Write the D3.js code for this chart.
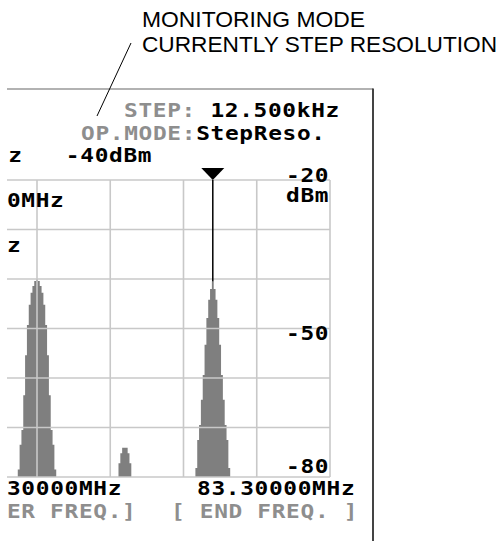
<!DOCTYPE html>
<html>
<head>
<meta charset="utf-8">
<script src="https://cdn.jsdelivr.net/npm/d3@7"></script>
<style>
  html, body { margin: 0; padding: 0; background: #fff; }
  svg { display: block; }
</style>
</head>
<body>
<div id="chart"></div>
<script>
// Span of the analyser screen (MHz) and level range (dBm)
const freqStart = 63.3;
const freqEnd = 83.3;
const divMHz = 2.5;
const levelTicks = [-20, -30, -40, -50, -60, -70, -80];
const levelLabels = [-20, -50, -80];

// Display bins (MHz per column) and the three peaks
const binStep = 0.0625;
const peakCenters = [73.3, 76.3, 79.3];
const peakA = [-78.5, -73.5, -70.5, -63.5, -55.4, -49.3, -45.2, -42.8, -41.4, -40.4, -40,
  -40.4, -41.4, -42.8, -45.2, -49.3, -55.4, -63.5, -70.5, -73.5, -78.5];
const peakB = [-77.2, -75.2, -74.1, -74.1, -74.1, -75.2, -77.2];
const peakC = [-78.2, -72.5, -69.5, -64.4, -59.4, -53.3, -47.9, -44.2, -42, -40.5,
  -42, -44.2, -47.9, -53.3, -59.4, -64.4, -69.5, -72.5, -78.2];
const peaks = [peakA, peakB, peakC];

// Marker
const markerFreq = 79.3;
const markerLevel = -40.5;

const width = 502;
const height = 541;

const svg = d3.select('#chart')
  .append('svg')
  .attr('width', width)
  .attr('height', height);

// the photographed screen is cut at the left edge
svg.append('clipPath')
  .attr('id', 'screen')
  .append('rect')
  .attr('x', 7).attr('y', 0)
  .attr('width', width - 7).attr('height', height);

const screen = svg.append('g').attr('clip-path', 'url(#screen)');

const xScale = d3.scaleLinear()
  .domain([freqStart, freqEnd])
  .range([-256, 330]);

const yScale = d3.scaleLinear()
  .domain([-80, -20])
  .range([477, 180]);

// Screen frame
screen.append('line')
  .attr('x1', 0).attr('x2', 373)
  .attr('y1', 89).attr('y2', 89)
  .attr('stroke', '#666').attr('stroke-width', 1.2);
screen.append('line')
  .attr('x1', 373).attr('x2', 373)
  .attr('y1', 88.5).attr('y2', height)
  .attr('stroke', '#444').attr('stroke-width', 2);

// Spectrum trace, one stepped area per peak
const area = d3.area()
  .curve(d3.curveStepAfter)
  .x(d => xScale(d.f))
  .y0(yScale(-80))
  .y1(d => yScale(d.v));

peaks.forEach((levels, p) => {
  const n = levels.length;
  const pts = levels.map((d, i) => ({ f: peakCenters[p] + (i - (n - 1) / 2 - 0.5) * binStep, v: d }));
  pts.push({ f: peakCenters[p] + ((n - 1) / 2 + 0.5) * binStep, v: levels[n - 1] });
  screen.append('path')
    .datum(pts)
    .attr('d', area)
    .attr('fill', '#7f7f7f');
});

// Grid on top of the trace
const gridFreqs = d3.range(freqStart, freqEnd + 0.001, divMHz);
screen.selectAll('.vgrid')
  .data(gridFreqs)
  .enter()
  .append('line')
  .attr('class', 'vgrid')
  .attr('x1', d => xScale(d)).attr('x2', d => xScale(d))
  .attr('y1', yScale(-20)).attr('y2', yScale(-80))
  .attr('stroke', '#c8c8c8').attr('stroke-width', 1.6);

screen.selectAll('.hgrid')
  .data(levelTicks)
  .enter()
  .append('line')
  .attr('class', 'hgrid')
  .attr('x1', xScale(freqStart)).attr('x2', xScale(freqEnd))
  .attr('y1', d => yScale(d)).attr('y2', d => yScale(d))
  .attr('stroke', '#c8c8c8').attr('stroke-width', 1.6);

// Marker line and triangle
const mx = xScale(markerFreq);
screen.append('line')
  .attr('x1', mx).attr('x2', mx)
  .attr('y1', yScale(-20)).attr('y2', yScale(markerLevel))
  .attr('stroke', '#000').attr('stroke-width', 1.5);
screen.append('path')
  .attr('transform', `translate(${mx},${yScale(-20)})`)
  .attr('d', 'M-11.5,-12L11.5,-12L0,0Z')
  .attr('fill', '#000');

// LCD style text: wide bold monospace, 14.4px per character cell
const cell = 14.4;
const stretch = 1.2;
function lcd(x, y, str, color) {
  screen.append('text')
    .attr('transform', `translate(${x},${y}) scale(${stretch},1)`)
    .attr('fill', color)
    .style('font-family', '"DejaVu Sans Mono", monospace')
    .style('font-weight', 'bold')
    .style('font-size', '19px')
    .style('letter-spacing', (cell / stretch - 19 * 0.602) + 'px')
    .style('white-space', 'pre')
    .text(str);
}
const grey = '#8e8e8e';

lcd(124, 117, 'STEP:', grey);
lcd(124 + 6 * cell, 117, '12.500kHz', '#000');
lcd(81, 140, 'OP.MODE:', grey);
lcd(81 + 8 * cell, 140, 'StepReso.', '#000');
lcd(66 - 14 * cell, 162, '79.30000MHz   -40dBm', '#000');
lcd(7 - 7 * cell, 207, '63.30000MHz', '#000');
lcd(7 - 6 * cell, 252, '2.50MHz', '#000');

levelLabels.forEach(d => {
  const dy = d === -80 ? -4 : (d === -20 ? 2 : 11);
  lcd(286, yScale(d) + dy, String(d), '#000');
});
lcd(286, 202, 'dBm', '#000');

lcd(7 - 3 * cell, 495, '73.30000MHz', '#000');
lcd(197, 495, '83.30000MHz', '#000');
lcd(7 - 5 * cell, 518, '[CENTER FREQ.]', grey);
lcd(171, 518, '[ END FREQ. ]', grey);

// Callout
svg.append('line')
  .attr('x1', 131).attr('y1', 43)
  .attr('x2', 97).attr('y2', 116)
  .attr('stroke', '#000').attr('stroke-width', 1);

const callout = ['MONITORING MODE', 'CURRENTLY STEP RESOLUTION'];
const calloutLen = [223, 355];
svg.selectAll('.callout')
  .data(callout)
  .enter()
  .append('text')
  .attr('class', 'callout')
  .attr('x', 142)
  .attr('y', (d, i) => 27 + i * 25)
  .attr('textLength', (d, i) => calloutLen[i])
  .attr('lengthAdjust', 'spacingAndGlyphs')
  .attr('fill', '#000')
  .style('font-family', '"Liberation Sans", Arial, sans-serif')
  .style('font-size', '22.5px')
  .text(d => d);
</script>
</body>
</html>
